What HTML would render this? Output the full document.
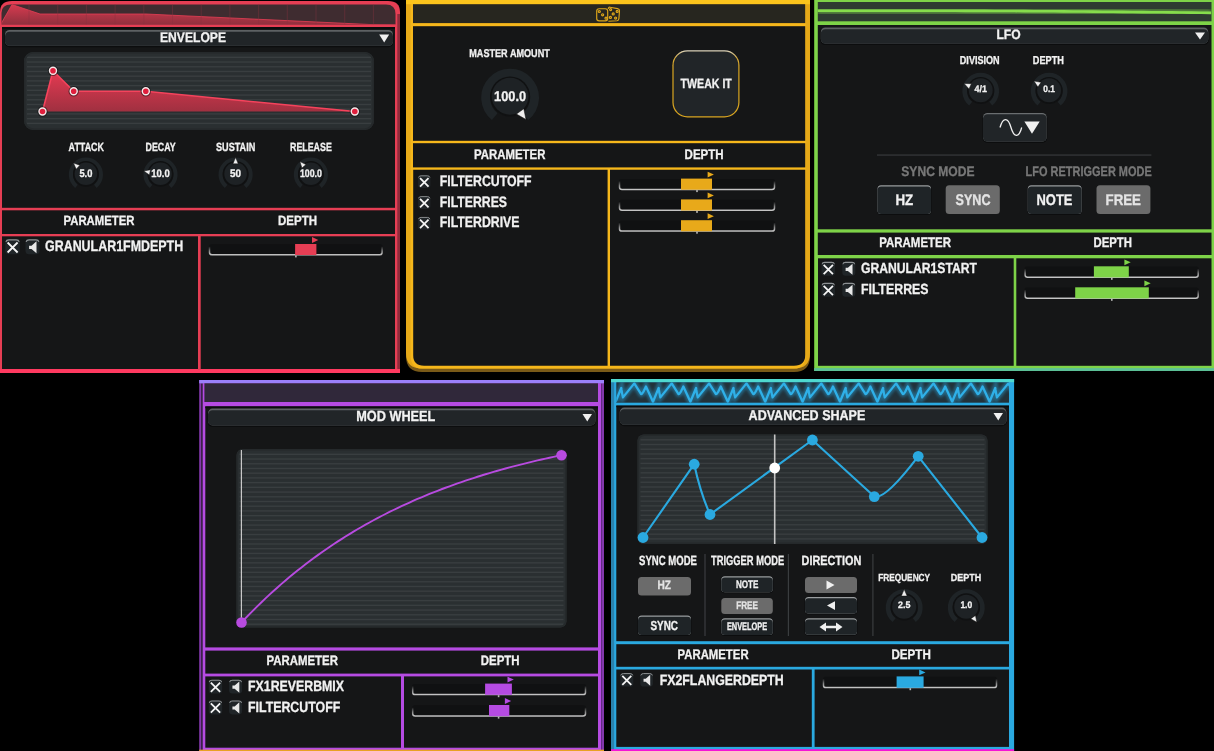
<!DOCTYPE html>
<html><head><meta charset="utf-8"><title>Modulators</title>
<style>
html,body{margin:0;padding:0;background:#000;}
body{width:1214px;height:751px;overflow:hidden;}
svg{display:block;font-family:"Liberation Sans",sans-serif;will-change:transform;-webkit-font-smoothing:antialiased;text-rendering:geometricPrecision;}
</style></head><body>
<svg width="1214" height="751" viewBox="0 0 1214 751">
<defs>
<linearGradient id="brk" x1="0" y1="0" x2="0" y2="1"><stop offset="0" stop-color="#b8b8b8" stop-opacity="0"/><stop offset="0.55" stop-color="#b8b8b8" stop-opacity="0.7"/><stop offset="1" stop-color="#c4c4c4"/></linearGradient>
<linearGradient id="redfill" x1="0" y1="0" x2="0" y2="1"><stop offset="0" stop-color="#e83a52"/><stop offset="1" stop-color="#a93444"/></linearGradient>
<linearGradient id="redfill2" gradientUnits="userSpaceOnUse" x1="0" y1="70" x2="0" y2="112"><stop offset="0" stop-color="#e63a52"/><stop offset="1" stop-color="#9f3040"/></linearGradient>
<linearGradient id="redfill3" gradientUnits="userSpaceOnUse" x1="0" y1="5" x2="0" y2="24"><stop offset="0" stop-color="#d53a4f"/><stop offset="1" stop-color="#92303e"/></linearGradient>
<linearGradient id="twk" x1="0" y1="0" x2="0" y2="1"><stop offset="0" stop-color="#d8d2c0"/><stop offset="0.12" stop-color="#dcae3a"/><stop offset="0.3" stop-color="#d9a520"/><stop offset="1" stop-color="#d9a520"/></linearGradient>
<filter id="glow" x="-5%" y="-50%" width="110%" height="200%"><feGaussianBlur stdDeviation="1.6"/></filter>
</defs>
<rect width="1214" height="751" fill="#000"/>

<g id="red">
<path d="M0,373 V12 Q0,1 12,1 H388 Q400,1 400,12 V373 Z" fill="#e63e54"/>
<rect x="397.30" y="14.00" width="2.70" height="355.00" fill="#8f2c3c" rx="0" />
<rect x="0.00" y="369.00" width="400.00" height="4.00" fill="#ff3a60" rx="0" />
<path d="M1.5,24.5 V13 Q1.5,4.5 11,4.5 H386 Q395.5,4.5 395.5,14 V24.5 Z" fill="#3f2c30"/>
<clipPath id="cstrip"><path d="M1.5,24.5 V13 Q1.5,4.5 11,4.5 H386 Q395.5,4.5 395.5,14 V24.5 Z"/></clipPath>
<g clip-path="url(#cstrip)">
<polygon points="1.5,23 12,4.5 40,14 146,14 370,24.5 396,25 1.5,25" fill="url(#redfill3)" stroke="#e63e54" stroke-width="0.8"/>
<rect x="28.50" y="4.50" width="1.00" height="20.00" fill="#8a3342" rx="0" opacity="0.4"/>
<rect x="57.20" y="4.50" width="1.00" height="20.00" fill="#8a3342" rx="0" opacity="0.4"/>
<rect x="85.90" y="4.50" width="1.00" height="20.00" fill="#8a3342" rx="0" opacity="0.4"/>
<rect x="114.60" y="4.50" width="1.00" height="20.00" fill="#8a3342" rx="0" opacity="0.4"/>
<rect x="143.30" y="4.50" width="1.00" height="20.00" fill="#8a3342" rx="0" opacity="0.4"/>
<rect x="172.00" y="4.50" width="1.00" height="20.00" fill="#8a3342" rx="0" opacity="0.4"/>
<rect x="200.70" y="4.50" width="1.00" height="20.00" fill="#8a3342" rx="0" opacity="0.4"/>
<rect x="229.40" y="4.50" width="1.00" height="20.00" fill="#8a3342" rx="0" opacity="0.4"/>
<rect x="258.10" y="4.50" width="1.00" height="20.00" fill="#8a3342" rx="0" opacity="0.4"/>
<rect x="286.80" y="4.50" width="1.00" height="20.00" fill="#8a3342" rx="0" opacity="0.4"/>
<rect x="315.50" y="4.50" width="1.00" height="20.00" fill="#8a3342" rx="0" opacity="0.4"/>
<rect x="344.20" y="4.50" width="1.00" height="20.00" fill="#8a3342" rx="0" opacity="0.4"/>
<rect x="372.90" y="4.50" width="1.00" height="20.00" fill="#8a3342" rx="0" opacity="0.4"/>
</g>
<rect x="2.00" y="27.00" width="393.00" height="342.00" fill="#151617" rx="0" />
<rect x="2.00" y="27.00" width="393.00" height="2.00" fill="#0b0c0d" rx="0" />
<rect x="4.50" y="30.00" width="389.00" height="17.30" fill="#0c0d0e" rx="5" />
<rect x="5.00" y="30.00" width="388.00" height="15.80" fill="#5d6163" rx="4.5" />
<rect x="5.00" y="31.70" width="388.00" height="14.10" fill="#212528" rx="4.5" />
<text x="160.00" y="41.80" font-size="13.95" font-weight="bold" fill="#f2f2f2" stroke="#f2f2f2" stroke-width="0.3" textLength="66.00" lengthAdjust="spacingAndGlyphs" >ENVELOPE</text>
<polygon points="379.2,34.6 389.2,34.6 384.2,42.4" fill="#f0f0f0"/>
<clipPath id="clipenv"><rect x="24" y="52" width="350" height="78" rx="9"/></clipPath>
<rect x="24.00" y="52.00" width="350.00" height="78.00" fill="#2a2f31" rx="9" />
<g clip-path="url(#clipenv)">
<rect x="27.00" y="56.60" width="344.00" height="1.40" fill="#393e40" rx="0" />
<rect x="27.00" y="61.32" width="344.00" height="1.40" fill="#393e40" rx="0" />
<rect x="27.00" y="66.04" width="344.00" height="1.40" fill="#393e40" rx="0" />
<rect x="27.00" y="70.76" width="344.00" height="1.40" fill="#393e40" rx="0" />
<rect x="27.00" y="75.48" width="344.00" height="1.40" fill="#393e40" rx="0" />
<rect x="27.00" y="80.20" width="344.00" height="1.40" fill="#393e40" rx="0" />
<rect x="27.00" y="84.92" width="344.00" height="1.40" fill="#393e40" rx="0" />
<rect x="27.00" y="89.64" width="344.00" height="1.40" fill="#393e40" rx="0" />
<rect x="27.00" y="94.36" width="344.00" height="1.40" fill="#393e40" rx="0" />
<rect x="27.00" y="99.08" width="344.00" height="1.40" fill="#393e40" rx="0" />
<rect x="27.00" y="103.80" width="344.00" height="1.40" fill="#393e40" rx="0" />
<rect x="27.00" y="108.52" width="344.00" height="1.40" fill="#393e40" rx="0" />
<rect x="27.00" y="113.24" width="344.00" height="1.40" fill="#393e40" rx="0" />
<rect x="27.00" y="117.96" width="344.00" height="1.40" fill="#393e40" rx="0" />
<rect x="27.00" y="122.68" width="344.00" height="1.40" fill="#393e40" rx="0" />
</g>
<rect x="24.75" y="52.75" width="348.5" height="76.5" rx="9" fill="none" stroke="#25292b" stroke-width="1.5"/>
<polygon points="42.5,111.5 53,70.7 73.7,91.3 145.8,91.3 354.8,111.5" fill="url(#redfill2)"/>
<polyline points="42.5,111.5 53,70.7 73.7,91.3 145.8,91.3 354.8,111.5" fill="none" stroke="#f5435c" stroke-width="1.6" stroke-linejoin="round"/>
<circle cx="42.5" cy="111.5" r="5.2" fill="#111" opacity="0.55"/>
<circle cx="42.5" cy="111.5" r="3.5" fill="#e01f3d" stroke="#f4e9ea" stroke-width="1.4"/>
<circle cx="53" cy="70.7" r="5.2" fill="#111" opacity="0.55"/>
<circle cx="53" cy="70.7" r="3.5" fill="#e01f3d" stroke="#f4e9ea" stroke-width="1.4"/>
<circle cx="73.7" cy="91.3" r="5.2" fill="#111" opacity="0.55"/>
<circle cx="73.7" cy="91.3" r="3.5" fill="#e01f3d" stroke="#f4e9ea" stroke-width="1.4"/>
<circle cx="145.8" cy="91.3" r="5.2" fill="#111" opacity="0.55"/>
<circle cx="145.8" cy="91.3" r="3.5" fill="#e01f3d" stroke="#f4e9ea" stroke-width="1.4"/>
<circle cx="354.8" cy="111.5" r="5.2" fill="#111" opacity="0.55"/>
<circle cx="354.8" cy="111.5" r="3.5" fill="#e01f3d" stroke="#f4e9ea" stroke-width="1.4"/>
<text x="68.60" y="150.50" font-size="11.92" font-weight="bold" fill="#f2f2f2" stroke="#f2f2f2" stroke-width="0.3" textLength="35.40" lengthAdjust="spacingAndGlyphs" >ATTACK</text>
<text x="145.50" y="150.50" font-size="11.92" font-weight="bold" fill="#f2f2f2" stroke="#f2f2f2" stroke-width="0.3" textLength="30.10" lengthAdjust="spacingAndGlyphs" >DECAY</text>
<text x="216.00" y="150.50" font-size="11.92" font-weight="bold" fill="#f2f2f2" stroke="#f2f2f2" stroke-width="0.3" textLength="39.30" lengthAdjust="spacingAndGlyphs" >SUSTAIN</text>
<text x="290.00" y="150.50" font-size="11.92" font-weight="bold" fill="#f2f2f2" stroke="#f2f2f2" stroke-width="0.3" textLength="41.80" lengthAdjust="spacingAndGlyphs" >RELEASE</text>
<path d="M76.46,186.26 A15.01,15.01 0 1 1 95.34,186.26" fill="none" stroke="#1f2427" stroke-width="4.19"/>
<circle cx="85.9" cy="173.92" r="12.91" fill="#101112"/>
<circle cx="85.9" cy="173.72" r="11.31" fill="#1e2225"/>
<polygon points="73.39,162.94 79.85,165.29 76.19,169.22" fill="#f0f0f0" stroke="#111" stroke-width="0.5"/>
<text x="79.40" y="177.40" font-size="10.90" font-weight="bold" fill="#f2f2f2" stroke="#f2f2f2" stroke-width="0.3" textLength="13.00" lengthAdjust="spacingAndGlyphs" >5.0</text>
<path d="M151.06,186.26 A15.01,15.01 0 1 1 169.94,186.26" fill="none" stroke="#1f2427" stroke-width="4.19"/>
<circle cx="160.5" cy="173.92" r="12.91" fill="#101112"/>
<circle cx="160.5" cy="173.72" r="11.31" fill="#1e2225"/>
<polygon points="143.77,171.04 150.52,169.73 149.40,174.99" fill="#f0f0f0" stroke="#111" stroke-width="0.5"/>
<text x="151.25" y="177.40" font-size="10.90" font-weight="bold" fill="#f2f2f2" stroke="#f2f2f2" stroke-width="0.3" textLength="18.50" lengthAdjust="spacingAndGlyphs" >10.0</text>
<path d="M226.16,186.26 A15.01,15.01 0 1 1 245.04,186.26" fill="none" stroke="#1f2427" stroke-width="4.19"/>
<circle cx="235.6" cy="173.92" r="12.91" fill="#101112"/>
<circle cx="235.6" cy="173.72" r="11.31" fill="#1e2225"/>
<polygon points="235.60,157.50 238.28,163.83 232.92,163.83" fill="#f0f0f0" stroke="#111" stroke-width="0.5"/>
<text x="230.10" y="177.40" font-size="10.90" font-weight="bold" fill="#f2f2f2" stroke="#f2f2f2" stroke-width="0.3" textLength="11.00" lengthAdjust="spacingAndGlyphs" >50</text>
<path d="M301.46,186.26 A15.01,15.01 0 1 1 320.34,186.26" fill="none" stroke="#1f2427" stroke-width="4.19"/>
<circle cx="310.9" cy="173.92" r="12.91" fill="#101112"/>
<circle cx="310.9" cy="173.72" r="11.31" fill="#1e2225"/>
<polygon points="299.91,161.50 306.03,164.62 301.92,168.07" fill="#f0f0f0" stroke="#111" stroke-width="0.5"/>
<text x="299.90" y="177.40" font-size="10.90" font-weight="bold" fill="#f2f2f2" stroke="#f2f2f2" stroke-width="0.3" textLength="22.00" lengthAdjust="spacingAndGlyphs" >100.0</text>
<rect x="0.00" y="207.80" width="397.00" height="2.50" fill="#e63e54" rx="0" />
<rect x="0.00" y="234.00" width="397.00" height="2.30" fill="#e63e54" rx="0" />
<rect x="198.00" y="236.00" width="2.70" height="134.00" fill="#e63e54" rx="0" />
<text x="63.50" y="225.30" font-size="13.37" font-weight="bold" fill="#f2f2f2" stroke="#f2f2f2" stroke-width="0.3" textLength="71.00" lengthAdjust="spacingAndGlyphs" >PARAMETER</text>
<text x="278.00" y="225.30" font-size="13.37" font-weight="bold" fill="#f2f2f2" stroke="#f2f2f2" stroke-width="0.3" textLength="39.00" lengthAdjust="spacingAndGlyphs" >DEPTH</text>
<g transform="translate(12.55,246.80) scale(1.0) translate(-12.55,-246.80)">
<rect x="5.30" y="239.30" width="14.50" height="15.00" fill="#202528" rx="3.5" />
<path d="M5.8999999999999995,241.9 Q6.3,239.9 8.8,239.9 H16.3 Q18.8,239.9 19.2,241.9" fill="none" stroke="#8e9294" stroke-width="1.1"/>
<path d="M7.6,242.5 L17.6,252.5 M17.6,242.5 L7.6,252.5" stroke="#f4f4f4" stroke-width="1.80" fill="none"/>
</g>
<g transform="translate(32.50,246.80) scale(1.0) translate(-32.50,-246.80)">
<rect x="25.50" y="239.30" width="14.00" height="15.00" fill="#202528" rx="3.5" />
<path d="M26.1,241.9 Q26.5,239.9 29.0,239.9 H36.0 Q38.5,239.9 38.9,241.9" fill="none" stroke="#8e9294" stroke-width="1.1"/>
<polygon points="29.1,245.70000000000002 31.5,245.70000000000002 36.5,241.3 36.5,253.3 31.5,249.10000000000002 29.1,249.10000000000002" fill="#e8e8e8"/>
</g>
<text x="45.00" y="250.90" font-size="15.12" font-weight="bold" fill="#f2f2f2" stroke="#f2f2f2" stroke-width="0.3" textLength="138.20" lengthAdjust="spacingAndGlyphs" >GRANULAR1FMDEPTH</text>
<rect x="209.00" y="244.30" width="173.60" height="11.30" fill="#101112" rx="2.5" />
<path d="M209.50,246.30 V252.60 Q209.50,254.80 212.00,254.80 H379.60 Q382.10,254.80 382.10,252.60 V246.30" fill="none" stroke="url(#brk)" stroke-width="1.5"/>
<rect x="295.10" y="244.00" width="21.30" height="11.00" fill="#e63e54" rx="0" />
<rect x="295.10" y="255.40" width="1.60" height="2.00" fill="#b8b8b8" rx="0" />
<polygon points="312.00,237.10 318.30,240.00 312.00,242.90" fill="#e63e54"/>
</g>
<g id="yellow">
<path d="M406,0 H810 V356 Q810,372 794,372 H422 Q406,372 406,356 Z" fill="#7a5a18"/>
<path d="M406,0 H810 V353 Q810,368.6 794,368.6 H422 Q406,368.6 406,353 Z" fill="#e6a918"/>
<path d="M410.6,0 H805.6 V355 Q805.6,368.6 794,368.6 H422 Q410.6,368.6 410.6,355 Z" fill="#f6b71b"/>
<rect x="406.00" y="0.00" width="404.00" height="4.20" fill="#fcc41c" rx="0" />
<rect x="413.00" y="4.20" width="392.20" height="18.90" fill="#27261f" rx="0" />
<rect x="413.00" y="26.20" width="392.20" height="114.60" fill="#151617" rx="0" />
<rect x="413.00" y="143.20" width="392.20" height="24.20" fill="#151617" rx="0" />
<path d="M413.2,169.8 H607.6 V365.7 H424 Q413.2,365.7 413.2,355 Z" fill="#151617"/>
<path d="M610,169.8 H805.2 V355 Q805.2,365.7 794,365.7 H610 Z" fill="#151617"/>
<g fill="none" stroke="#dda61a" stroke-width="1.15" stroke-linejoin="round">
<rect x="596.7" y="8.7" width="11" height="12.1" rx="2.4"/>
<path d="M608.3,9 Q608.2,7 610,7.2 L617.6,8.6 Q619.6,9 619.5,10.8 L618.9,18.6 Q618.7,20.5 617,20.8 L608.4,21.2"/>
<circle cx="599.3" cy="11.5" r="1.05"/>
<circle cx="602.6" cy="14.8" r="1.05"/>
<circle cx="606" cy="18.2" r="1.05"/>
<circle cx="610.6" cy="9.6" r="1.05"/>
<circle cx="617.2" cy="11.4" r="1.05"/>
<circle cx="613.2" cy="13.9" r="1.05"/>
<circle cx="615.6" cy="18" r="1.05"/>
<circle cx="610.4" cy="17.4" r="1.05"/>
</g>
<text x="469.30" y="56.70" font-size="11.34" font-weight="bold" fill="#f2f2f2" stroke="#f2f2f2" stroke-width="0.3" textLength="80.50" lengthAdjust="spacingAndGlyphs" >MASTER AMOUNT</text>
<path d="M494.71,116.60 A24.45,24.45 0 1 1 525.49,116.60" fill="none" stroke="#1f2427" stroke-width="8.90"/>
<circle cx="510.1" cy="96.44" r="20.00" fill="#101112"/>
<circle cx="510.1" cy="96.24" r="18.40" fill="#1e2225"/>
<polygon points="525.98,119.46 516.45,114.06 523.79,108.73" fill="#f0f0f0" stroke="#111" stroke-width="0.5"/>
<text x="494.10" y="101.05" font-size="14.10" font-weight="bold" fill="#f2f2f2" stroke="#f2f2f2" stroke-width="0.3" textLength="32.00" lengthAdjust="spacingAndGlyphs" >100.0</text>
<rect x="672.40" y="50.30" width="67.10" height="67.10" fill="url(#twk)" rx="15" />
<rect x="673.60" y="51.50" width="64.70" height="64.70" fill="#212528" rx="13.9" />
<text x="680.60" y="87.90" font-size="13.37" font-weight="bold" fill="#f2f2f2" stroke="#f2f2f2" stroke-width="0.3" textLength="51.20" lengthAdjust="spacingAndGlyphs" >TWEAK IT</text>
<text x="474.00" y="159.10" font-size="13.95" font-weight="bold" fill="#f2f2f2" stroke="#f2f2f2" stroke-width="0.3" textLength="71.40" lengthAdjust="spacingAndGlyphs" >PARAMETER</text>
<text x="684.60" y="159.10" font-size="13.95" font-weight="bold" fill="#f2f2f2" stroke="#f2f2f2" stroke-width="0.3" textLength="39.00" lengthAdjust="spacingAndGlyphs" >DEPTH</text>
<g transform="translate(424.25,181.70) scale(0.85) translate(-424.25,-181.70)">
<rect x="417.00" y="174.20" width="14.50" height="15.00" fill="#202528" rx="3.5" />
<path d="M417.6,176.79999999999998 Q418,174.79999999999998 420.5,174.79999999999998 H428 Q430.5,174.79999999999998 430.9,176.79999999999998" fill="none" stroke="#8e9294" stroke-width="1.1"/>
<path d="M419.3,177.39999999999998 L429.3,187.39999999999998 M429.3,177.39999999999998 L419.3,187.39999999999998" stroke="#f4f4f4" stroke-width="2.12" fill="none"/>
</g>
<text x="439.80" y="185.80" font-size="15.12" font-weight="bold" fill="#f2f2f2" stroke="#f2f2f2" stroke-width="0.3" textLength="91.80" lengthAdjust="spacingAndGlyphs" >FILTERCUTOFF</text>
<rect x="619.00" y="178.90" width="156.00" height="11.40" fill="#101112" rx="2.5" />
<path d="M619.50,180.90 V187.30 Q619.50,189.50 622.00,189.50 H772.00 Q774.50,189.50 774.50,187.30 V180.90" fill="none" stroke="url(#brk)" stroke-width="1.5"/>
<rect x="681.00" y="178.60" width="31.00" height="11.10" fill="#e8a91a" rx="0" />
<rect x="696.20" y="190.10" width="1.60" height="2.00" fill="#b8b8b8" rx="0" />
<polygon points="707.60,171.70 713.90,174.60 707.60,177.50" fill="#e8a91a"/>
<g transform="translate(424.25,202.50) scale(0.85) translate(-424.25,-202.50)">
<rect x="417.00" y="195.00" width="14.50" height="15.00" fill="#202528" rx="3.5" />
<path d="M417.6,197.6 Q418,195.6 420.5,195.6 H428 Q430.5,195.6 430.9,197.6" fill="none" stroke="#8e9294" stroke-width="1.1"/>
<path d="M419.3,198.2 L429.3,208.2 M429.3,198.2 L419.3,208.2" stroke="#f4f4f4" stroke-width="2.12" fill="none"/>
</g>
<text x="439.80" y="206.60" font-size="15.12" font-weight="bold" fill="#f2f2f2" stroke="#f2f2f2" stroke-width="0.3" textLength="67.20" lengthAdjust="spacingAndGlyphs" >FILTERRES</text>
<rect x="619.00" y="199.70" width="156.00" height="11.40" fill="#101112" rx="2.5" />
<path d="M619.50,201.70 V208.10 Q619.50,210.30 622.00,210.30 H772.00 Q774.50,210.30 774.50,208.10 V201.70" fill="none" stroke="url(#brk)" stroke-width="1.5"/>
<rect x="681.00" y="199.40" width="31.00" height="11.10" fill="#e8a91a" rx="0" />
<rect x="696.20" y="210.90" width="1.60" height="2.00" fill="#b8b8b8" rx="0" />
<polygon points="707.60,192.50 713.90,195.40 707.60,198.30" fill="#e8a91a"/>
<g transform="translate(424.25,223.30) scale(0.85) translate(-424.25,-223.30)">
<rect x="417.00" y="215.80" width="14.50" height="15.00" fill="#202528" rx="3.5" />
<path d="M417.6,218.39999999999998 Q418,216.39999999999998 420.5,216.39999999999998 H428 Q430.5,216.39999999999998 430.9,218.39999999999998" fill="none" stroke="#8e9294" stroke-width="1.1"/>
<path d="M419.3,218.99999999999997 L429.3,228.99999999999997 M429.3,218.99999999999997 L419.3,228.99999999999997" stroke="#f4f4f4" stroke-width="2.12" fill="none"/>
</g>
<text x="439.80" y="227.40" font-size="15.12" font-weight="bold" fill="#f2f2f2" stroke="#f2f2f2" stroke-width="0.3" textLength="79.70" lengthAdjust="spacingAndGlyphs" >FILTERDRIVE</text>
<rect x="619.00" y="220.50" width="156.00" height="11.40" fill="#101112" rx="2.5" />
<path d="M619.50,222.50 V228.90 Q619.50,231.10 622.00,231.10 H772.00 Q774.50,231.10 774.50,228.90 V222.50" fill="none" stroke="url(#brk)" stroke-width="1.5"/>
<rect x="681.00" y="220.20" width="31.00" height="11.10" fill="#e8a91a" rx="0" />
<rect x="696.20" y="231.70" width="1.60" height="2.00" fill="#b8b8b8" rx="0" />
<polygon points="707.60,213.30 713.90,216.20 707.60,219.10" fill="#e8a91a"/>
</g>
<g id="green">
<rect x="814.20" y="0.00" width="399.80" height="371.00" fill="#7ed348" rx="0" />
<rect x="814.20" y="368.10" width="399.80" height="2.90" fill="#5cc097" rx="0" />
<rect x="817.80" y="2.00" width="393.70" height="19.30" fill="#2e3b31" rx="0" />
<polyline points="817.8,10.78 827.6,10.76 837.5,10.74 847.3,10.72 857.1,10.71 866.9,10.70 876.8,10.70 886.6,10.70 896.4,10.71 906.3,10.71 916.1,10.73 925.9,10.74 935.8,10.76 945.6,10.79 955.4,10.81 965.2,10.85 975.1,10.88 984.9,10.92 994.7,10.96 1004.6,11.01 1014.4,11.06 1024.2,11.12 1034.1,11.18 1043.9,11.24 1053.7,11.31 1063.5,11.38 1073.4,11.45 1083.2,11.53 1093.0,11.61 1102.9,11.70 1112.7,11.79 1122.5,11.88 1132.4,11.98 1142.2,12.08 1152.0,12.19 1161.8,12.30 1171.7,12.41 1181.5,12.53 1191.3,12.65 1201.2,12.77 1211.0,12.90" fill="none" stroke="#7ed348" stroke-width="7" opacity="0.5" filter="url(#glow)"/>
<polyline points="817.8,10.78 827.6,10.76 837.5,10.74 847.3,10.72 857.1,10.71 866.9,10.70 876.8,10.70 886.6,10.70 896.4,10.71 906.3,10.71 916.1,10.73 925.9,10.74 935.8,10.76 945.6,10.79 955.4,10.81 965.2,10.85 975.1,10.88 984.9,10.92 994.7,10.96 1004.6,11.01 1014.4,11.06 1024.2,11.12 1034.1,11.18 1043.9,11.24 1053.7,11.31 1063.5,11.38 1073.4,11.45 1083.2,11.53 1093.0,11.61 1102.9,11.70 1112.7,11.79 1122.5,11.88 1132.4,11.98 1142.2,12.08 1152.0,12.19 1161.8,12.30 1171.7,12.41 1181.5,12.53 1191.3,12.65 1201.2,12.77 1211.0,12.90" fill="none" stroke="#86dd4c" stroke-width="2.6"/>
<rect x="817.80" y="25.00" width="393.70" height="204.30" fill="#151617" rx="0" />
<rect x="817.80" y="232.60" width="393.70" height="22.40" fill="#151617" rx="0" />
<rect x="818.00" y="258.30" width="195.70" height="107.50" fill="#151617" rx="0" />
<rect x="1016.30" y="258.30" width="195.20" height="107.50" fill="#151617" rx="0" />
<rect x="820.30" y="27.50" width="388.50" height="17.60" fill="#0c0d0e" rx="5" />
<rect x="820.80" y="27.50" width="387.50" height="16.10" fill="#5d6163" rx="4.5" />
<rect x="820.80" y="29.20" width="387.50" height="14.40" fill="#212528" rx="4.5" />
<text x="996.40" y="38.90" font-size="13.66" font-weight="bold" fill="#f2f2f2" stroke="#f2f2f2" stroke-width="0.3" textLength="24.20" lengthAdjust="spacingAndGlyphs" >LFO</text>
<polygon points="1195,32.4 1205,32.4 1200.0,39.6" fill="#f0f0f0"/>
<text x="959.80" y="64.40" font-size="11.48" font-weight="bold" fill="#f2f2f2" stroke="#f2f2f2" stroke-width="0.3" textLength="39.90" lengthAdjust="spacingAndGlyphs" >DIVISION</text>
<text x="1032.80" y="64.40" font-size="11.48" font-weight="bold" fill="#f2f2f2" stroke="#f2f2f2" stroke-width="0.3" textLength="31.10" lengthAdjust="spacingAndGlyphs" >DEPTH</text>
<path d="M970.66,103.60 A15.95,15.95 0 1 1 990.74,103.60" fill="none" stroke="#1f2427" stroke-width="4.80"/>
<circle cx="980.7" cy="90.47" r="13.55" fill="#101112"/>
<circle cx="980.7" cy="90.27" r="11.95" fill="#1e2225"/>
<polygon points="964.07,83.44 971.44,83.70 969.01,88.93" fill="#f0f0f0" stroke="#111" stroke-width="0.5"/>
<text x="974.50" y="91.90" font-size="9.59" font-weight="bold" fill="#f2f2f2" stroke="#f2f2f2" stroke-width="0.3" textLength="12.40" lengthAdjust="spacingAndGlyphs" >4/1</text>
<path d="M1039.06,103.60 A15.95,15.95 0 1 1 1059.14,103.60" fill="none" stroke="#1f2427" stroke-width="4.80"/>
<circle cx="1049.1" cy="90.47" r="13.55" fill="#101112"/>
<circle cx="1049.1" cy="90.27" r="11.95" fill="#1e2225"/>
<polygon points="1033.89,80.94 1041.13,82.35 1037.90,87.12" fill="#f0f0f0" stroke="#111" stroke-width="0.5"/>
<text x="1043.30" y="91.85" font-size="9.45" font-weight="bold" fill="#f2f2f2" stroke="#f2f2f2" stroke-width="0.3" textLength="11.60" lengthAdjust="spacingAndGlyphs" >0.1</text>
<rect x="982.50" y="113.00" width="64.70" height="30.00" fill="#0c0d0e" rx="5" />
<rect x="983.00" y="113.00" width="63.70" height="28.60" fill="#6a6e70" rx="4.5" />
<rect x="983.00" y="114.20" width="63.70" height="27.40" fill="#212528" rx="4.5" />
<path d="M1000,127.5 C1003,117 1008,117 1011,127.5 S1019,138 1021.7,127.5" fill="none" stroke="#f0f0f0" stroke-width="1.3"/>
<polygon points="1024.4,121.6 1039.7,121.6 1032,133.8" fill="#f0f0f0"/>
<rect x="877.00" y="154.50" width="274.40" height="1.10" fill="#3a3d3f" rx="0" />
<text x="901.30" y="176.40" font-size="13.81" font-weight="bold" fill="#787878" stroke="#787878" stroke-width="0.3" textLength="73.20" lengthAdjust="spacingAndGlyphs" >SYNC MODE</text>
<text x="1025.60" y="176.40" font-size="13.81" font-weight="bold" fill="#787878" stroke="#787878" stroke-width="0.3" textLength="126.20" lengthAdjust="spacingAndGlyphs" >LFO RETRIGGER MODE</text>
<rect x="877.00" y="185.20" width="54.50" height="29.80" fill="#0c0d0e" rx="4.0" />
<rect x="877.50" y="185.20" width="53.50" height="28.80" fill="#9a9ea0" rx="3.5" />
<rect x="877.50" y="186.40" width="53.50" height="27.60" fill="#1f2427" rx="3.5" />
<text x="895.40" y="204.80" font-size="15.41" font-weight="bold" fill="#f2f2f2" stroke="#f2f2f2" stroke-width="0.3" textLength="17.80" lengthAdjust="spacingAndGlyphs" >HZ</text>
<rect x="945.70" y="185.20" width="54.10" height="28.80" fill="#6b6b6b" rx="3.5" />
<text x="955.50" y="204.80" font-size="15.41" font-weight="bold" fill="#e4e4e4" stroke="#e4e4e4" stroke-width="0.3" textLength="35.00" lengthAdjust="spacingAndGlyphs" >SYNC</text>
<rect x="1027.30" y="185.20" width="54.80" height="29.80" fill="#0c0d0e" rx="4.0" />
<rect x="1027.80" y="185.20" width="53.80" height="28.80" fill="#9a9ea0" rx="3.5" />
<rect x="1027.80" y="186.40" width="53.80" height="27.60" fill="#1f2427" rx="3.5" />
<text x="1036.50" y="204.80" font-size="15.41" font-weight="bold" fill="#f2f2f2" stroke="#f2f2f2" stroke-width="0.3" textLength="36.00" lengthAdjust="spacingAndGlyphs" >NOTE</text>
<rect x="1096.50" y="185.20" width="53.90" height="28.80" fill="#6b6b6b" rx="3.5" />
<text x="1105.50" y="204.80" font-size="15.41" font-weight="bold" fill="#e4e4e4" stroke="#e4e4e4" stroke-width="0.3" textLength="35.50" lengthAdjust="spacingAndGlyphs" >FREE</text>
<text x="879.20" y="247.30" font-size="13.81" font-weight="bold" fill="#f2f2f2" stroke="#f2f2f2" stroke-width="0.3" textLength="71.80" lengthAdjust="spacingAndGlyphs" >PARAMETER</text>
<text x="1093.50" y="247.30" font-size="13.81" font-weight="bold" fill="#f2f2f2" stroke="#f2f2f2" stroke-width="0.3" textLength="38.50" lengthAdjust="spacingAndGlyphs" >DEPTH</text>
<g transform="translate(828.25,268.80) scale(0.93) translate(-828.25,-268.80)">
<rect x="821.00" y="261.30" width="14.50" height="15.00" fill="#202528" rx="3.5" />
<path d="M821.6,263.90000000000003 Q822,261.90000000000003 824.5,261.90000000000003 H832 Q834.5,261.90000000000003 834.9,263.90000000000003" fill="none" stroke="#8e9294" stroke-width="1.1"/>
<path d="M823.3,264.5 L833.3,274.5 M833.3,264.5 L823.3,274.5" stroke="#f4f4f4" stroke-width="1.94" fill="none"/>
</g>
<g transform="translate(848.80,268.80) scale(0.93) translate(-848.80,-268.80)">
<rect x="841.80" y="261.30" width="14.00" height="15.00" fill="#202528" rx="3.5" />
<path d="M842.4,263.90000000000003 Q842.8,261.90000000000003 845.3,261.90000000000003 H852.3 Q854.8,261.90000000000003 855.1999999999999,263.90000000000003" fill="none" stroke="#8e9294" stroke-width="1.1"/>
<polygon points="845.4,267.7 847.8,267.7 852.8,263.3 852.8,275.3 847.8,271.1 845.4,271.1" fill="#e8e8e8"/>
</g>
<text x="861.00" y="272.90" font-size="14.68" font-weight="bold" fill="#f2f2f2" stroke="#f2f2f2" stroke-width="0.3" textLength="116.00" lengthAdjust="spacingAndGlyphs" >GRANULAR1START</text>
<g transform="translate(828.25,289.80) scale(0.93) translate(-828.25,-289.80)">
<rect x="821.00" y="282.30" width="14.50" height="15.00" fill="#202528" rx="3.5" />
<path d="M821.6,284.90000000000003 Q822,282.90000000000003 824.5,282.90000000000003 H832 Q834.5,282.90000000000003 834.9,284.90000000000003" fill="none" stroke="#8e9294" stroke-width="1.1"/>
<path d="M823.3,285.5 L833.3,295.5 M833.3,285.5 L823.3,295.5" stroke="#f4f4f4" stroke-width="1.94" fill="none"/>
</g>
<g transform="translate(848.80,289.80) scale(0.93) translate(-848.80,-289.80)">
<rect x="841.80" y="282.30" width="14.00" height="15.00" fill="#202528" rx="3.5" />
<path d="M842.4,284.90000000000003 Q842.8,282.90000000000003 845.3,282.90000000000003 H852.3 Q854.8,282.90000000000003 855.1999999999999,284.90000000000003" fill="none" stroke="#8e9294" stroke-width="1.1"/>
<polygon points="845.4,288.7 847.8,288.7 852.8,284.3 852.8,296.3 847.8,292.1 845.4,292.1" fill="#e8e8e8"/>
</g>
<text x="861.00" y="293.90" font-size="14.68" font-weight="bold" fill="#f2f2f2" stroke="#f2f2f2" stroke-width="0.3" textLength="67.50" lengthAdjust="spacingAndGlyphs" >FILTERRES</text>
<rect x="1024.60" y="266.60" width="174.10" height="11.40" fill="#101112" rx="2.5" />
<path d="M1025.10,268.60 V275.00 Q1025.10,277.20 1027.60,277.20 H1195.70 Q1198.20,277.20 1198.20,275.00 V268.60" fill="none" stroke="url(#brk)" stroke-width="1.5"/>
<rect x="1093.90" y="266.30" width="34.90" height="11.10" fill="#7ed348" rx="0" />
<rect x="1111.00" y="277.80" width="1.60" height="2.00" fill="#b8b8b8" rx="0" />
<polygon points="1124.40,259.40 1130.70,262.30 1124.40,265.20" fill="#7ed348"/>
<rect x="1024.60" y="287.60" width="174.10" height="11.40" fill="#101112" rx="2.5" />
<path d="M1025.10,289.60 V296.00 Q1025.10,298.20 1027.60,298.20 H1195.70 Q1198.20,298.20 1198.20,296.00 V289.60" fill="none" stroke="url(#brk)" stroke-width="1.5"/>
<rect x="1075.20" y="287.30" width="73.60" height="11.10" fill="#7ed348" rx="0" />
<rect x="1111.00" y="298.80" width="1.60" height="2.00" fill="#b8b8b8" rx="0" />
<polygon points="1144.40,280.40 1150.70,283.30 1144.40,286.20" fill="#7ed348"/>
</g>
<g id="purple">
<rect x="199.20" y="380.00" width="404.80" height="371.00" fill="#8237ab" rx="0" />
<rect x="201.10" y="383.30" width="1.70" height="367.70" fill="#34203f" rx="0" />
<rect x="202.80" y="383.30" width="398.30" height="367.70" fill="#b54be2" rx="0" />
<rect x="601.10" y="383.30" width="0.80" height="367.70" fill="#5a2878" rx="0" />
<rect x="199.20" y="380.00" width="404.80" height="3.30" fill="#9b80fb" rx="0" />
<rect x="199.20" y="749.70" width="404.80" height="1.30" fill="#e8a223" rx="0" />
<rect x="204.40" y="383.30" width="393.60" height="18.70" fill="#30283a" rx="0" />
<rect x="205.30" y="406.40" width="392.70" height="241.00" fill="#151617" rx="0" />
<rect x="205.30" y="406.40" width="392.70" height="1.80" fill="#0b0c0d" rx="0" />
<rect x="205.30" y="650.60" width="392.70" height="23.00" fill="#151617" rx="0" />
<rect x="205.30" y="676.40" width="195.70" height="71.30" fill="#151617" rx="0" />
<rect x="404.00" y="676.40" width="194.00" height="71.30" fill="#151617" rx="0" />
<rect x="207.50" y="408.60" width="388.40" height="18.30" fill="#0c0d0e" rx="5" />
<rect x="208.00" y="408.60" width="387.40" height="16.80" fill="#5d6163" rx="4.5" />
<rect x="208.00" y="410.30" width="387.40" height="15.10" fill="#212528" rx="4.5" />
<text x="356.20" y="421.00" font-size="14.68" font-weight="bold" fill="#f2f2f2" stroke="#f2f2f2" stroke-width="0.3" textLength="79.20" lengthAdjust="spacingAndGlyphs" >MOD WHEEL</text>
<polygon points="582.5,414 592,414 587.25,421.6" fill="#f0f0f0"/>
<clipPath id="clipmod"><rect x="236.5" y="449" width="330.0" height="178.5" rx="6"/></clipPath>
<rect x="236.50" y="449.00" width="330.00" height="178.50" fill="#2a2f31" rx="6" />
<g clip-path="url(#clipmod)">
<rect x="239.50" y="453.60" width="324.00" height="1.40" fill="#393e40" rx="0" />
<rect x="239.50" y="458.32" width="324.00" height="1.40" fill="#393e40" rx="0" />
<rect x="239.50" y="463.04" width="324.00" height="1.40" fill="#393e40" rx="0" />
<rect x="239.50" y="467.76" width="324.00" height="1.40" fill="#393e40" rx="0" />
<rect x="239.50" y="472.48" width="324.00" height="1.40" fill="#393e40" rx="0" />
<rect x="239.50" y="477.20" width="324.00" height="1.40" fill="#393e40" rx="0" />
<rect x="239.50" y="481.92" width="324.00" height="1.40" fill="#393e40" rx="0" />
<rect x="239.50" y="486.64" width="324.00" height="1.40" fill="#393e40" rx="0" />
<rect x="239.50" y="491.36" width="324.00" height="1.40" fill="#393e40" rx="0" />
<rect x="239.50" y="496.08" width="324.00" height="1.40" fill="#393e40" rx="0" />
<rect x="239.50" y="500.80" width="324.00" height="1.40" fill="#393e40" rx="0" />
<rect x="239.50" y="505.52" width="324.00" height="1.40" fill="#393e40" rx="0" />
<rect x="239.50" y="510.24" width="324.00" height="1.40" fill="#393e40" rx="0" />
<rect x="239.50" y="514.96" width="324.00" height="1.40" fill="#393e40" rx="0" />
<rect x="239.50" y="519.68" width="324.00" height="1.40" fill="#393e40" rx="0" />
<rect x="239.50" y="524.40" width="324.00" height="1.40" fill="#393e40" rx="0" />
<rect x="239.50" y="529.12" width="324.00" height="1.40" fill="#393e40" rx="0" />
<rect x="239.50" y="533.84" width="324.00" height="1.40" fill="#393e40" rx="0" />
<rect x="239.50" y="538.56" width="324.00" height="1.40" fill="#393e40" rx="0" />
<rect x="239.50" y="543.28" width="324.00" height="1.40" fill="#393e40" rx="0" />
<rect x="239.50" y="548.00" width="324.00" height="1.40" fill="#393e40" rx="0" />
<rect x="239.50" y="552.72" width="324.00" height="1.40" fill="#393e40" rx="0" />
<rect x="239.50" y="557.44" width="324.00" height="1.40" fill="#393e40" rx="0" />
<rect x="239.50" y="562.16" width="324.00" height="1.40" fill="#393e40" rx="0" />
<rect x="239.50" y="566.88" width="324.00" height="1.40" fill="#393e40" rx="0" />
<rect x="239.50" y="571.60" width="324.00" height="1.40" fill="#393e40" rx="0" />
<rect x="239.50" y="576.32" width="324.00" height="1.40" fill="#393e40" rx="0" />
<rect x="239.50" y="581.04" width="324.00" height="1.40" fill="#393e40" rx="0" />
<rect x="239.50" y="585.76" width="324.00" height="1.40" fill="#393e40" rx="0" />
<rect x="239.50" y="590.48" width="324.00" height="1.40" fill="#393e40" rx="0" />
<rect x="239.50" y="595.20" width="324.00" height="1.40" fill="#393e40" rx="0" />
<rect x="239.50" y="599.92" width="324.00" height="1.40" fill="#393e40" rx="0" />
<rect x="239.50" y="604.64" width="324.00" height="1.40" fill="#393e40" rx="0" />
<rect x="239.50" y="609.36" width="324.00" height="1.40" fill="#393e40" rx="0" />
<rect x="239.50" y="614.08" width="324.00" height="1.40" fill="#393e40" rx="0" />
<rect x="239.50" y="618.80" width="324.00" height="1.40" fill="#393e40" rx="0" />
<rect x="239.50" y="623.52" width="324.00" height="1.40" fill="#393e40" rx="0" />
</g>
<rect x="237.25" y="449.75" width="328.5" height="177.0" rx="6" fill="none" stroke="#25292b" stroke-width="1.5"/>
<rect x="240.80" y="450.00" width="1.20" height="172.00" fill="#c8c8c8" rx="0" />
<polyline points="241.50,622.50 245.50,618.27 249.50,614.13 253.50,610.08 257.50,606.10 261.50,602.21 265.50,598.40 269.50,594.66 273.50,591.00 277.50,587.42 281.50,583.91 285.50,580.47 289.50,577.10 293.50,573.80 297.50,570.57 301.50,567.40 305.50,564.30 309.50,561.26 313.50,558.28 317.50,555.37 321.50,552.51 325.50,549.71 329.50,546.97 333.50,544.29 337.50,541.65 341.50,539.08 345.50,536.55 349.50,534.08 353.50,531.66 357.50,529.29 361.50,526.96 365.50,524.69 369.50,522.46 373.50,520.27 377.50,518.13 381.50,516.03 385.50,513.98 389.50,511.97 393.50,510.00 397.50,508.07 401.50,506.18 405.50,504.32 409.50,502.51 413.50,500.73 417.50,498.99 421.50,497.29 425.50,495.61 429.50,493.98 433.50,492.37 437.50,490.80 441.50,489.26 445.50,487.76 449.50,486.28 453.50,484.83 457.50,483.42 461.50,482.03 465.50,480.67 469.50,479.34 473.50,478.03 477.50,476.76 481.50,475.50 485.50,474.28 489.50,473.08 493.50,471.90 497.50,470.75 501.50,469.62 505.50,468.51 509.50,467.43 513.50,466.37 517.50,465.33 521.50,464.31 525.50,463.31 529.50,462.33 533.50,461.38 537.50,460.44 541.50,459.52 545.50,458.62 549.50,457.74 553.50,456.87 557.50,456.03 561.50,455.20" fill="none" stroke="#b84be0" stroke-width="1.9" stroke-linejoin="round"/>
<circle cx="241.5" cy="622.5" r="5.3" fill="#b84be0"/><circle cx="561.5" cy="455.2" r="5.3" fill="#b84be0"/>
<text x="266.40" y="664.90" font-size="13.66" font-weight="bold" fill="#f2f2f2" stroke="#f2f2f2" stroke-width="0.3" textLength="71.50" lengthAdjust="spacingAndGlyphs" >PARAMETER</text>
<text x="480.80" y="664.90" font-size="13.66" font-weight="bold" fill="#f2f2f2" stroke="#f2f2f2" stroke-width="0.3" textLength="38.80" lengthAdjust="spacingAndGlyphs" >DEPTH</text>
<g transform="translate(215.45,686.60) scale(0.93) translate(-215.45,-686.60)">
<rect x="208.20" y="679.10" width="14.50" height="15.00" fill="#202528" rx="3.5" />
<path d="M208.79999999999998,681.7 Q209.2,679.7 211.7,679.7 H219.2 Q221.7,679.7 222.1,681.7" fill="none" stroke="#8e9294" stroke-width="1.1"/>
<path d="M210.5,682.3000000000001 L220.5,692.3000000000001 M220.5,682.3000000000001 L210.5,692.3000000000001" stroke="#f4f4f4" stroke-width="1.94" fill="none"/>
</g>
<g transform="translate(235.60,686.60) scale(0.93) translate(-235.60,-686.60)">
<rect x="228.60" y="679.10" width="14.00" height="15.00" fill="#202528" rx="3.5" />
<path d="M229.2,681.7 Q229.6,679.7 232.1,679.7 H239.1 Q241.6,679.7 242.0,681.7" fill="none" stroke="#8e9294" stroke-width="1.1"/>
<polygon points="232.2,685.5 234.6,685.5 239.6,681.1 239.6,693.1 234.6,688.9 232.2,688.9" fill="#e8e8e8"/>
</g>
<text x="248.00" y="690.70" font-size="14.83" font-weight="bold" fill="#f2f2f2" stroke="#f2f2f2" stroke-width="0.3" textLength="96.00" lengthAdjust="spacingAndGlyphs" >FX1REVERBMIX</text>
<g transform="translate(215.45,707.40) scale(0.93) translate(-215.45,-707.40)">
<rect x="208.20" y="699.90" width="14.50" height="15.00" fill="#202528" rx="3.5" />
<path d="M208.79999999999998,702.5 Q209.2,700.5 211.7,700.5 H219.2 Q221.7,700.5 222.1,702.5" fill="none" stroke="#8e9294" stroke-width="1.1"/>
<path d="M210.5,703.1 L220.5,713.1 M220.5,703.1 L210.5,713.1" stroke="#f4f4f4" stroke-width="1.94" fill="none"/>
</g>
<g transform="translate(235.60,707.40) scale(0.93) translate(-235.60,-707.40)">
<rect x="228.60" y="699.90" width="14.00" height="15.00" fill="#202528" rx="3.5" />
<path d="M229.2,702.5 Q229.6,700.5 232.1,700.5 H239.1 Q241.6,700.5 242.0,702.5" fill="none" stroke="#8e9294" stroke-width="1.1"/>
<polygon points="232.2,706.3 234.6,706.3 239.6,701.9 239.6,713.9 234.6,709.6999999999999 232.2,709.6999999999999" fill="#e8e8e8"/>
</g>
<text x="248.00" y="711.50" font-size="14.83" font-weight="bold" fill="#f2f2f2" stroke="#f2f2f2" stroke-width="0.3" textLength="92.30" lengthAdjust="spacingAndGlyphs" >FILTERCUTOFF</text>
<rect x="412.20" y="683.90" width="173.80" height="11.50" fill="#101112" rx="2.5" />
<path d="M412.70,685.90 V692.40 Q412.70,694.60 415.20,694.60 H583.00 Q585.50,694.60 585.50,692.40 V685.90" fill="none" stroke="url(#brk)" stroke-width="1.5"/>
<rect x="485.10" y="683.60" width="26.80" height="11.20" fill="#b54be2" rx="0" />
<rect x="497.80" y="695.20" width="1.60" height="2.00" fill="#b8b8b8" rx="0" />
<polygon points="507.50,676.70 513.80,679.60 507.50,682.50" fill="#b54be2"/>
<rect x="412.20" y="705.30" width="173.80" height="11.50" fill="#101112" rx="2.5" />
<path d="M412.70,707.30 V713.80 Q412.70,716.00 415.20,716.00 H583.00 Q585.50,716.00 585.50,713.80 V707.30" fill="none" stroke="url(#brk)" stroke-width="1.5"/>
<rect x="489.00" y="705.00" width="20.30" height="11.20" fill="#b54be2" rx="0" />
<rect x="497.80" y="716.60" width="1.60" height="2.00" fill="#b8b8b8" rx="0" />
<polygon points="504.90,698.10 511.20,701.00 504.90,703.90" fill="#b54be2"/>
</g>
<g id="blue">
<rect x="611.00" y="379.00" width="403.10" height="372.00" fill="#2aa9e0" rx="0" />
<rect x="611.00" y="382.20" width="3.10" height="368.80" fill="#2a82ad" rx="0" />
<rect x="611.00" y="379.00" width="403.10" height="3.20" fill="#4fd8cf" rx="0" />
<rect x="611.00" y="749.20" width="403.10" height="1.80" fill="#f514d6" rx="0" />
<rect x="616.30" y="382.30" width="392.70" height="20.40" fill="#22323a" rx="0" />
<clipPath id="cbl"><rect x="616.3" y="382.3" width="393.5" height="20.4"/></clipPath>
<g clip-path="url(#cbl)">
<polyline points="615.60,401.70 621.25,387.94 621.39,388.99 621.53,390.02 621.69,391.02 621.85,392.00 622.02,392.96 622.20,393.89 622.39,394.80 622.58,395.68 622.78,396.55 622.99,397.38 634.29,383.40 641.12,394.02 641.38,394.06 641.69,393.93 642.05,393.61 642.46,393.12 642.92,392.45 643.43,391.61 643.99,390.59 644.60,389.39 645.25,388.01 645.96,386.46 653.00,401.70 658.65,387.94 658.79,388.99 658.93,390.02 659.09,391.02 659.25,392.00 659.42,392.96 659.60,393.89 659.79,394.80 659.98,395.68 660.18,396.55 660.39,397.38 671.69,383.40 678.52,394.02 678.78,394.06 679.09,393.93 679.45,393.61 679.86,393.12 680.32,392.45 680.83,391.61 681.39,390.59 682.00,389.39 682.65,388.01 683.36,386.46 690.40,401.70 696.05,387.94 696.19,388.99 696.33,390.02 696.49,391.02 696.65,392.00 696.82,392.96 697.00,393.89 697.19,394.80 697.38,395.68 697.58,396.55 697.79,397.38 709.09,383.40 715.92,394.02 716.18,394.06 716.49,393.93 716.85,393.61 717.26,393.12 717.72,392.45 718.23,391.61 718.79,390.59 719.40,389.39 720.05,388.01 720.76,386.46 727.80,401.70 733.45,387.94 733.59,388.99 733.73,390.02 733.89,391.02 734.05,392.00 734.22,392.96 734.40,393.89 734.59,394.80 734.78,395.68 734.98,396.55 735.19,397.38 746.49,383.40 753.32,394.02 753.58,394.06 753.89,393.93 754.25,393.61 754.66,393.12 755.12,392.45 755.63,391.61 756.19,390.59 756.80,389.39 757.45,388.01 758.16,386.46 765.20,401.70 770.85,387.94 770.99,388.99 771.13,390.02 771.29,391.02 771.45,392.00 771.62,392.96 771.80,393.89 771.99,394.80 772.18,395.68 772.38,396.55 772.59,397.38 783.89,383.40 790.72,394.02 790.98,394.06 791.29,393.93 791.65,393.61 792.06,393.12 792.52,392.45 793.03,391.61 793.59,390.59 794.20,389.39 794.85,388.01 795.56,386.46 802.60,401.70 808.25,387.94 808.39,388.99 808.53,390.02 808.69,391.02 808.85,392.00 809.02,392.96 809.20,393.89 809.39,394.80 809.58,395.68 809.78,396.55 809.99,397.38 821.29,383.40 828.12,394.02 828.38,394.06 828.69,393.93 829.05,393.61 829.46,393.12 829.92,392.45 830.43,391.61 830.99,390.59 831.60,389.39 832.25,388.01 832.96,386.46 840.00,401.70 845.65,387.94 845.79,388.99 845.93,390.02 846.09,391.02 846.25,392.00 846.42,392.96 846.60,393.89 846.79,394.80 846.98,395.68 847.18,396.55 847.39,397.38 858.69,383.40 865.52,394.02 865.78,394.06 866.09,393.93 866.45,393.61 866.86,393.12 867.32,392.45 867.83,391.61 868.39,390.59 869.00,389.39 869.65,388.01 870.36,386.46 877.40,401.70 883.05,387.94 883.19,388.99 883.33,390.02 883.49,391.02 883.65,392.00 883.82,392.96 884.00,393.89 884.19,394.80 884.38,395.68 884.58,396.55 884.79,397.38 896.09,383.40 902.92,394.02 903.18,394.06 903.49,393.93 903.85,393.61 904.26,393.12 904.72,392.45 905.23,391.61 905.79,390.59 906.40,389.39 907.05,388.01 907.76,386.46 914.80,401.70 920.45,387.94 920.59,388.99 920.73,390.02 920.89,391.02 921.05,392.00 921.22,392.96 921.40,393.89 921.59,394.80 921.78,395.68 921.98,396.55 922.19,397.38 933.49,383.40 940.32,394.02 940.58,394.06 940.89,393.93 941.25,393.61 941.66,393.12 942.12,392.45 942.63,391.61 943.19,390.59 943.80,389.39 944.45,388.01 945.16,386.46 952.20,401.70 957.85,387.94 957.99,388.99 958.13,390.02 958.29,391.02 958.45,392.00 958.62,392.96 958.80,393.89 958.99,394.80 959.18,395.68 959.38,396.55 959.59,397.38 970.89,383.40 977.72,394.02 977.98,394.06 978.29,393.93 978.65,393.61 979.06,393.12 979.52,392.45 980.03,391.61 980.59,390.59 981.20,389.39 981.85,388.01 982.56,386.46 989.60,401.70 995.25,387.94 995.39,388.99 995.53,390.02 995.69,391.02 995.85,392.00 996.02,392.96 996.20,393.89 996.39,394.80 996.58,395.68 996.78,396.55 996.99,397.38 1008.29,383.40 1015.12,394.02 1015.38,394.06 1015.69,393.93 1016.05,393.61 1016.46,393.12 1016.92,392.45 1017.43,391.61 1017.99,390.59 1018.60,389.39 1019.25,388.01 1019.96,386.46 1027.00,401.70" fill="none" stroke="#2aa9e0" stroke-width="6" opacity="0.45" filter="url(#glow)"/>
<polyline points="615.60,401.70 621.25,387.94 621.39,388.99 621.53,390.02 621.69,391.02 621.85,392.00 622.02,392.96 622.20,393.89 622.39,394.80 622.58,395.68 622.78,396.55 622.99,397.38 634.29,383.40 641.12,394.02 641.38,394.06 641.69,393.93 642.05,393.61 642.46,393.12 642.92,392.45 643.43,391.61 643.99,390.59 644.60,389.39 645.25,388.01 645.96,386.46 653.00,401.70 658.65,387.94 658.79,388.99 658.93,390.02 659.09,391.02 659.25,392.00 659.42,392.96 659.60,393.89 659.79,394.80 659.98,395.68 660.18,396.55 660.39,397.38 671.69,383.40 678.52,394.02 678.78,394.06 679.09,393.93 679.45,393.61 679.86,393.12 680.32,392.45 680.83,391.61 681.39,390.59 682.00,389.39 682.65,388.01 683.36,386.46 690.40,401.70 696.05,387.94 696.19,388.99 696.33,390.02 696.49,391.02 696.65,392.00 696.82,392.96 697.00,393.89 697.19,394.80 697.38,395.68 697.58,396.55 697.79,397.38 709.09,383.40 715.92,394.02 716.18,394.06 716.49,393.93 716.85,393.61 717.26,393.12 717.72,392.45 718.23,391.61 718.79,390.59 719.40,389.39 720.05,388.01 720.76,386.46 727.80,401.70 733.45,387.94 733.59,388.99 733.73,390.02 733.89,391.02 734.05,392.00 734.22,392.96 734.40,393.89 734.59,394.80 734.78,395.68 734.98,396.55 735.19,397.38 746.49,383.40 753.32,394.02 753.58,394.06 753.89,393.93 754.25,393.61 754.66,393.12 755.12,392.45 755.63,391.61 756.19,390.59 756.80,389.39 757.45,388.01 758.16,386.46 765.20,401.70 770.85,387.94 770.99,388.99 771.13,390.02 771.29,391.02 771.45,392.00 771.62,392.96 771.80,393.89 771.99,394.80 772.18,395.68 772.38,396.55 772.59,397.38 783.89,383.40 790.72,394.02 790.98,394.06 791.29,393.93 791.65,393.61 792.06,393.12 792.52,392.45 793.03,391.61 793.59,390.59 794.20,389.39 794.85,388.01 795.56,386.46 802.60,401.70 808.25,387.94 808.39,388.99 808.53,390.02 808.69,391.02 808.85,392.00 809.02,392.96 809.20,393.89 809.39,394.80 809.58,395.68 809.78,396.55 809.99,397.38 821.29,383.40 828.12,394.02 828.38,394.06 828.69,393.93 829.05,393.61 829.46,393.12 829.92,392.45 830.43,391.61 830.99,390.59 831.60,389.39 832.25,388.01 832.96,386.46 840.00,401.70 845.65,387.94 845.79,388.99 845.93,390.02 846.09,391.02 846.25,392.00 846.42,392.96 846.60,393.89 846.79,394.80 846.98,395.68 847.18,396.55 847.39,397.38 858.69,383.40 865.52,394.02 865.78,394.06 866.09,393.93 866.45,393.61 866.86,393.12 867.32,392.45 867.83,391.61 868.39,390.59 869.00,389.39 869.65,388.01 870.36,386.46 877.40,401.70 883.05,387.94 883.19,388.99 883.33,390.02 883.49,391.02 883.65,392.00 883.82,392.96 884.00,393.89 884.19,394.80 884.38,395.68 884.58,396.55 884.79,397.38 896.09,383.40 902.92,394.02 903.18,394.06 903.49,393.93 903.85,393.61 904.26,393.12 904.72,392.45 905.23,391.61 905.79,390.59 906.40,389.39 907.05,388.01 907.76,386.46 914.80,401.70 920.45,387.94 920.59,388.99 920.73,390.02 920.89,391.02 921.05,392.00 921.22,392.96 921.40,393.89 921.59,394.80 921.78,395.68 921.98,396.55 922.19,397.38 933.49,383.40 940.32,394.02 940.58,394.06 940.89,393.93 941.25,393.61 941.66,393.12 942.12,392.45 942.63,391.61 943.19,390.59 943.80,389.39 944.45,388.01 945.16,386.46 952.20,401.70 957.85,387.94 957.99,388.99 958.13,390.02 958.29,391.02 958.45,392.00 958.62,392.96 958.80,393.89 958.99,394.80 959.18,395.68 959.38,396.55 959.59,397.38 970.89,383.40 977.72,394.02 977.98,394.06 978.29,393.93 978.65,393.61 979.06,393.12 979.52,392.45 980.03,391.61 980.59,390.59 981.20,389.39 981.85,388.01 982.56,386.46 989.60,401.70 995.25,387.94 995.39,388.99 995.53,390.02 995.69,391.02 995.85,392.00 996.02,392.96 996.20,393.89 996.39,394.80 996.58,395.68 996.78,396.55 996.99,397.38 1008.29,383.40 1015.12,394.02 1015.38,394.06 1015.69,393.93 1016.05,393.61 1016.46,393.12 1016.92,392.45 1017.43,391.61 1017.99,390.59 1018.60,389.39 1019.25,388.01 1019.96,386.46 1027.00,401.70" fill="none" stroke="#2fb0e8" stroke-width="2.3" stroke-linejoin="round"/>
</g>
<rect x="616.30" y="405.60" width="392.70" height="235.60" fill="#151617" rx="0" />
<rect x="616.30" y="405.60" width="392.70" height="1.60" fill="#0b0c0d" rx="0" />
<rect x="616.30" y="644.20" width="392.70" height="22.60" fill="#151617" rx="0" />
<rect x="616.30" y="669.50" width="195.50" height="77.40" fill="#151617" rx="0" />
<rect x="814.60" y="669.50" width="194.40" height="77.40" fill="#151617" rx="0" />
<rect x="619.20" y="407.60" width="387.80" height="18.70" fill="#0c0d0e" rx="5" />
<rect x="619.70" y="407.60" width="386.80" height="17.20" fill="#5d6163" rx="4.5" />
<rect x="619.70" y="409.30" width="386.80" height="15.50" fill="#212528" rx="4.5" />
<text x="748.60" y="419.90" font-size="14.24" font-weight="bold" fill="#f2f2f2" stroke="#f2f2f2" stroke-width="0.3" textLength="116.70" lengthAdjust="spacingAndGlyphs" >ADVANCED SHAPE</text>
<polygon points="993.5,413 1003,413 998.25,420.6" fill="#f0f0f0"/>
<clipPath id="clipadv"><rect x="637.5" y="434.5" width="350.0" height="109.5" rx="6"/></clipPath>
<rect x="637.50" y="434.50" width="350.00" height="109.50" fill="#2a2f31" rx="6" />
<g clip-path="url(#clipadv)">
<rect x="640.50" y="439.10" width="344.00" height="1.40" fill="#393e40" rx="0" />
<rect x="640.50" y="443.82" width="344.00" height="1.40" fill="#393e40" rx="0" />
<rect x="640.50" y="448.54" width="344.00" height="1.40" fill="#393e40" rx="0" />
<rect x="640.50" y="453.26" width="344.00" height="1.40" fill="#393e40" rx="0" />
<rect x="640.50" y="457.98" width="344.00" height="1.40" fill="#393e40" rx="0" />
<rect x="640.50" y="462.70" width="344.00" height="1.40" fill="#393e40" rx="0" />
<rect x="640.50" y="467.42" width="344.00" height="1.40" fill="#393e40" rx="0" />
<rect x="640.50" y="472.14" width="344.00" height="1.40" fill="#393e40" rx="0" />
<rect x="640.50" y="476.86" width="344.00" height="1.40" fill="#393e40" rx="0" />
<rect x="640.50" y="481.58" width="344.00" height="1.40" fill="#393e40" rx="0" />
<rect x="640.50" y="486.30" width="344.00" height="1.40" fill="#393e40" rx="0" />
<rect x="640.50" y="491.02" width="344.00" height="1.40" fill="#393e40" rx="0" />
<rect x="640.50" y="495.74" width="344.00" height="1.40" fill="#393e40" rx="0" />
<rect x="640.50" y="500.46" width="344.00" height="1.40" fill="#393e40" rx="0" />
<rect x="640.50" y="505.18" width="344.00" height="1.40" fill="#393e40" rx="0" />
<rect x="640.50" y="509.90" width="344.00" height="1.40" fill="#393e40" rx="0" />
<rect x="640.50" y="514.62" width="344.00" height="1.40" fill="#393e40" rx="0" />
<rect x="640.50" y="519.34" width="344.00" height="1.40" fill="#393e40" rx="0" />
<rect x="640.50" y="524.06" width="344.00" height="1.40" fill="#393e40" rx="0" />
<rect x="640.50" y="528.78" width="344.00" height="1.40" fill="#393e40" rx="0" />
<rect x="640.50" y="533.50" width="344.00" height="1.40" fill="#393e40" rx="0" />
<rect x="640.50" y="538.22" width="344.00" height="1.40" fill="#393e40" rx="0" />
</g>
<rect x="638.25" y="435.25" width="348.5" height="108.0" rx="6" fill="none" stroke="#25292b" stroke-width="1.5"/>
<rect x="773.90" y="434.50" width="1.60" height="109.50" fill="#c4c4c4" rx="0" />
<path d="M643,537.5 L694.2,464.2 Q700.3,492.5 710,514.5 L812.4,440 L874.3,496.6 Q885,500 918.2,456.3 L982,537.5" fill="none" stroke="#2aa9e0" stroke-width="2.1" stroke-linejoin="round"/>
<circle cx="643" cy="537.5" r="5.4" fill="#2aa9e0"/>
<circle cx="694.2" cy="464.2" r="5.4" fill="#2aa9e0"/>
<circle cx="710" cy="514.5" r="5.4" fill="#2aa9e0"/>
<circle cx="774.7" cy="468" r="5.4" fill="#ffffff"/>
<circle cx="812.4" cy="440" r="5.4" fill="#2aa9e0"/>
<circle cx="874.3" cy="496.6" r="5.4" fill="#2aa9e0"/>
<circle cx="918.2" cy="456.3" r="5.4" fill="#2aa9e0"/>
<circle cx="982" cy="537.5" r="5.4" fill="#2aa9e0"/>
<text x="639.00" y="564.70" font-size="13.37" font-weight="bold" fill="#f2f2f2" stroke="#f2f2f2" stroke-width="0.3" textLength="58.00" lengthAdjust="spacingAndGlyphs" >SYNC MODE</text>
<text x="711.00" y="564.70" font-size="13.37" font-weight="bold" fill="#f2f2f2" stroke="#f2f2f2" stroke-width="0.3" textLength="73.20" lengthAdjust="spacingAndGlyphs" >TRIGGER MODE</text>
<text x="801.60" y="564.70" font-size="13.37" font-weight="bold" fill="#f2f2f2" stroke="#f2f2f2" stroke-width="0.3" textLength="59.70" lengthAdjust="spacingAndGlyphs" >DIRECTION</text>
<rect x="704.40" y="554.00" width="1.20" height="82.00" fill="#3a3d3f" rx="0" />
<rect x="787.80" y="554.00" width="1.20" height="82.00" fill="#3a3d3f" rx="0" />
<rect x="872.30" y="554.00" width="1.20" height="82.00" fill="#3a3d3f" rx="0" />
<rect x="638.00" y="577.00" width="53.00" height="18.50" fill="#6b6b6b" rx="3.5" />
<text x="657.50" y="588.90" font-size="12.21" font-weight="bold" fill="#e4e4e4" stroke="#e4e4e4" stroke-width="0.3" textLength="13.50" lengthAdjust="spacingAndGlyphs" >HZ</text>
<rect x="637.50" y="615.50" width="54.00" height="20.50" fill="#0c0d0e" rx="4.0" />
<rect x="638.00" y="615.50" width="53.00" height="19.50" fill="#9a9ea0" rx="3.5" />
<rect x="638.00" y="616.70" width="53.00" height="18.30" fill="#1f2427" rx="3.5" />
<text x="650.50" y="629.50" font-size="13.08" font-weight="bold" fill="#f2f2f2" stroke="#f2f2f2" stroke-width="0.3" textLength="27.50" lengthAdjust="spacingAndGlyphs" >SYNC</text>
<rect x="720.80" y="576.30" width="52.50" height="17.00" fill="#0c0d0e" rx="4.0" />
<rect x="721.30" y="576.30" width="51.50" height="16.00" fill="#9a9ea0" rx="3.5" />
<rect x="721.30" y="577.50" width="51.50" height="14.80" fill="#1f2427" rx="3.5" />
<text x="735.90" y="587.50" font-size="10.90" font-weight="bold" fill="#f2f2f2" stroke="#f2f2f2" stroke-width="0.3" textLength="22.50" lengthAdjust="spacingAndGlyphs" >NOTE</text>
<rect x="721.30" y="598.00" width="51.50" height="16.00" fill="#6b6b6b" rx="3.5" />
<text x="736.20" y="608.50" font-size="11.05" font-weight="bold" fill="#e4e4e4" stroke="#e4e4e4" stroke-width="0.3" textLength="21.80" lengthAdjust="spacingAndGlyphs" >FREE</text>
<rect x="720.80" y="618.30" width="52.50" height="17.70" fill="#0c0d0e" rx="4.0" />
<rect x="721.30" y="618.30" width="51.50" height="16.70" fill="#9a9ea0" rx="3.5" />
<rect x="721.30" y="619.50" width="51.50" height="15.50" fill="#1f2427" rx="3.5" />
<text x="726.90" y="629.80" font-size="10.90" font-weight="bold" fill="#f2f2f2" stroke="#f2f2f2" stroke-width="0.3" textLength="40.30" lengthAdjust="spacingAndGlyphs" >ENVELOPE</text>
<rect x="805.00" y="577.00" width="52.00" height="16.00" fill="#6b6b6b" rx="3.5" />
<polygon points="826.5,580.5 834.5,585 826.5,589.5" fill="#f0f0f0"/>
<rect x="804.50" y="597.00" width="53.00" height="17.40" fill="#0c0d0e" rx="4.0" />
<rect x="805.00" y="597.00" width="52.00" height="16.40" fill="#9a9ea0" rx="3.5" />
<rect x="805.00" y="598.20" width="52.00" height="15.20" fill="#1f2427" rx="3.5" />
<polygon points="835,601.3 827,605.6 835,610" fill="#f0f0f0"/>
<rect x="804.50" y="618.20" width="53.00" height="17.60" fill="#0c0d0e" rx="4.0" />
<rect x="805.00" y="618.20" width="52.00" height="16.60" fill="#9a9ea0" rx="3.5" />
<rect x="805.00" y="619.40" width="52.00" height="15.40" fill="#1f2427" rx="3.5" />
<path d="M819.5,627 L826,622.6 V625.8 H836 V622.6 L842.5,627 L836,631.4 V628.2 H826 V631.4 Z" fill="#f0f0f0"/>
<text x="878.20" y="580.90" font-size="10.32" font-weight="bold" fill="#f2f2f2" stroke="#f2f2f2" stroke-width="0.3" textLength="51.90" lengthAdjust="spacingAndGlyphs" >FREQUENCY</text>
<text x="950.80" y="580.90" font-size="10.32" font-weight="bold" fill="#f2f2f2" stroke="#f2f2f2" stroke-width="0.3" textLength="30.40" lengthAdjust="spacingAndGlyphs" >DEPTH</text>
<path d="M894.10,620.17 A16.05,16.05 0 1 1 914.30,620.17" fill="none" stroke="#1f2427" stroke-width="4.80"/>
<circle cx="904.2" cy="606.96" r="13.65" fill="#101112"/>
<circle cx="904.2" cy="606.76" r="12.05" fill="#1e2225"/>
<polygon points="904.20,589.25 907.10,596.08 901.30,596.08" fill="#f0f0f0" stroke="#111" stroke-width="0.5"/>
<text x="898.00" y="608.35" font-size="9.45" font-weight="bold" fill="#f2f2f2" stroke="#f2f2f2" stroke-width="0.3" textLength="12.40" lengthAdjust="spacingAndGlyphs" >2.5</text>
<path d="M956.20,620.17 A16.05,16.05 0 1 1 976.40,620.17" fill="none" stroke="#1f2427" stroke-width="4.80"/>
<circle cx="966.3" cy="606.96" r="13.65" fill="#101112"/>
<circle cx="966.3" cy="606.76" r="12.05" fill="#1e2225"/>
<polygon points="976.82,622.18 970.79,618.81 975.48,615.40" fill="#f0f0f0" stroke="#111" stroke-width="0.5"/>
<text x="960.40" y="608.35" font-size="9.45" font-weight="bold" fill="#f2f2f2" stroke="#f2f2f2" stroke-width="0.3" textLength="11.80" lengthAdjust="spacingAndGlyphs" >1.0</text>
<text x="677.50" y="658.50" font-size="13.95" font-weight="bold" fill="#f2f2f2" stroke="#f2f2f2" stroke-width="0.3" textLength="71.10" lengthAdjust="spacingAndGlyphs" >PARAMETER</text>
<text x="891.50" y="658.50" font-size="13.95" font-weight="bold" fill="#f2f2f2" stroke="#f2f2f2" stroke-width="0.3" textLength="39.30" lengthAdjust="spacingAndGlyphs" >DEPTH</text>
<g transform="translate(626.75,679.80) scale(0.9) translate(-626.75,-679.80)">
<rect x="619.50" y="672.30" width="14.50" height="15.00" fill="#202528" rx="3.5" />
<path d="M620.1,674.9 Q620.5,672.9 623.0,672.9 H630.5 Q633.0,672.9 633.4,674.9" fill="none" stroke="#8e9294" stroke-width="1.1"/>
<path d="M621.8,675.5 L631.8,685.5 M631.8,675.5 L621.8,685.5" stroke="#f4f4f4" stroke-width="2.00" fill="none"/>
</g>
<g transform="translate(646.60,679.80) scale(0.9) translate(-646.60,-679.80)">
<rect x="639.60" y="672.30" width="14.00" height="15.00" fill="#202528" rx="3.5" />
<path d="M640.2,674.9 Q640.6,672.9 643.1,672.9 H650.1 Q652.6,672.9 653.0,674.9" fill="none" stroke="#8e9294" stroke-width="1.1"/>
<polygon points="643.2,678.6999999999999 645.6,678.6999999999999 650.6,674.3 650.6,686.3 645.6,682.0999999999999 643.2,682.0999999999999" fill="#e8e8e8"/>
</g>
<text x="659.70" y="684.70" font-size="14.83" font-weight="bold" fill="#f2f2f2" stroke="#f2f2f2" stroke-width="0.3" textLength="124.10" lengthAdjust="spacingAndGlyphs" >FX2FLANGERDEPTH</text>
<rect x="823.00" y="676.70" width="174.00" height="11.70" fill="#101112" rx="2.5" />
<path d="M823.50,678.70 V685.40 Q823.50,687.60 826.00,687.60 H994.00 Q996.50,687.60 996.50,685.40 V678.70" fill="none" stroke="url(#brk)" stroke-width="1.5"/>
<rect x="896.60" y="676.40" width="27.00" height="11.40" fill="#2aa9e0" rx="0" />
<rect x="909.50" y="688.20" width="1.60" height="2.00" fill="#b8b8b8" rx="0" />
<polygon points="919.20,669.50 925.50,672.40 919.20,675.30" fill="#2aa9e0"/>
</g>
</svg></body></html>
